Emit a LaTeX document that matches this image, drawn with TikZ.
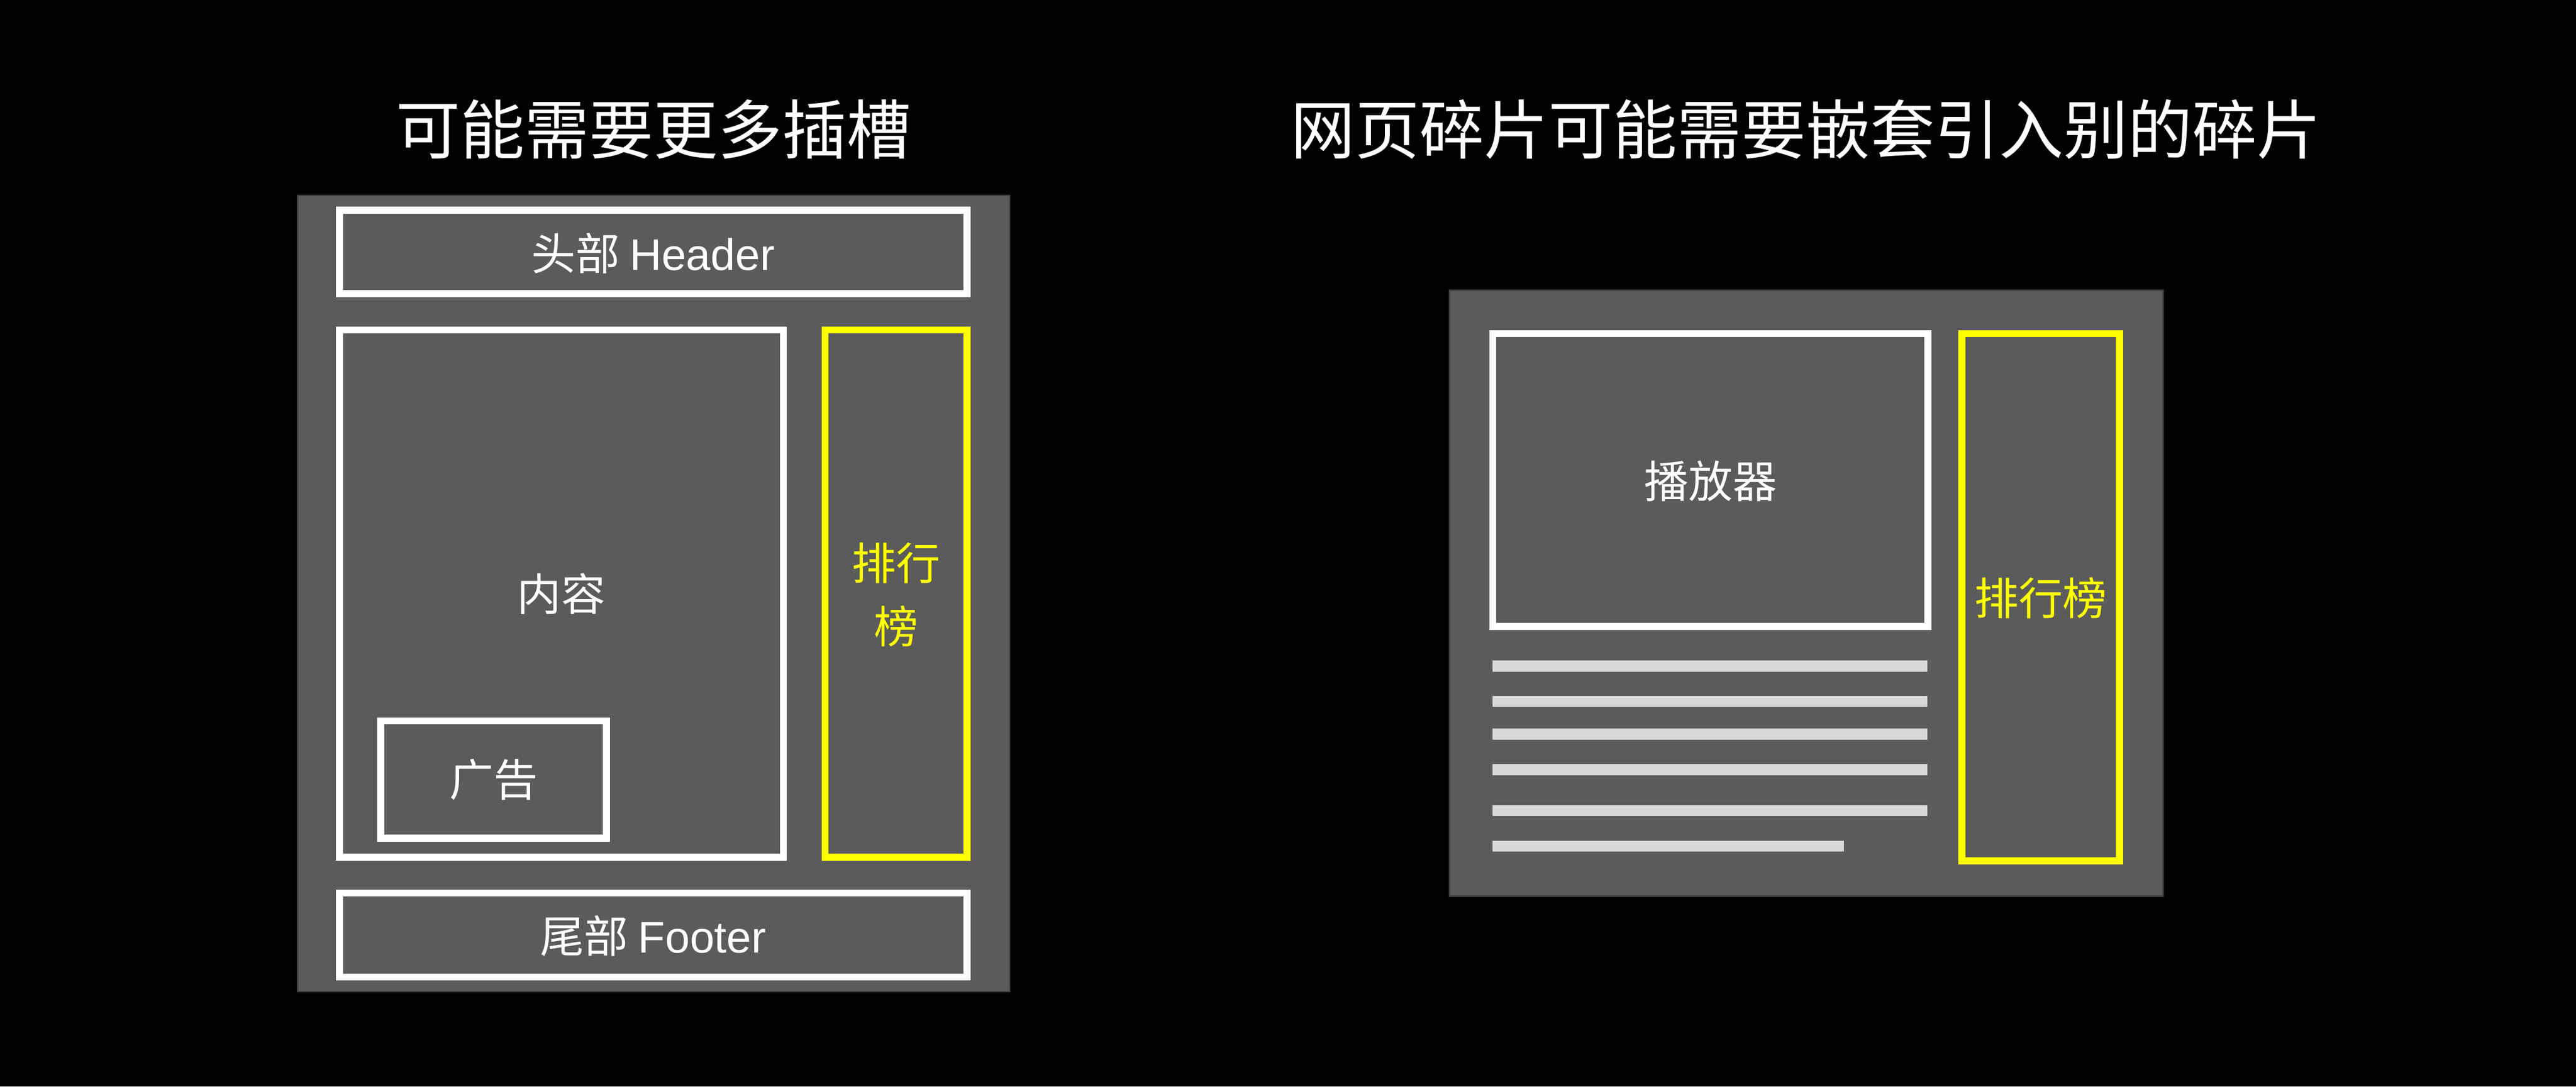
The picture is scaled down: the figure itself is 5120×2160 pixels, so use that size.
\documentclass[tikz,border=0pt]{standalone}
\usepackage{fontspec}
\setmainfont{Liberation Sans}
\newfontfamily\cjk{Noto Sans CJK SC}
\usetikzlibrary{positioning}

\definecolor{panelgray}{RGB}{91,91,91}
\definecolor{paneledge}{RGB}{64,64,64}
\definecolor{rowgray}{RGB}{216,216,216}
\definecolor{rankyellow}{RGB}{255,255,0}

\tikzset{
  panel/.style={fill=panelgray, draw=paneledge, line width=0.03cm},
  slot/.style={draw=white, line width=0.14cm},
  rankslot/.style={draw=rankyellow, line width=0.14cm},
  title/.style={text=white, font=\cjk\fontsize{36.4}{44}\selectfont},
  label/.style={text=white, font=\cjk\fontsize{25}{36}\selectfont},
}

\begin{document}
\begin{tikzpicture}[x=0.01cm, y=-0.01cm]
        \fill[black] (0,0) rectangle (5120,2160);
        \useasboundingbox (0,0) rectangle (5120,2160);

        % left page
        \node[title] (lefttitle) at (1299,257) {可能需要更多插槽};
        \draw[panel] (591,389) rectangle (2007,1971);
        \draw[slot] (675,418) rectangle (1922,584);
        \draw[slot] (675,656) rectangle (1557,1704);
        \draw[rankslot] (1640,656) rectangle (1922,1704);
        \draw[slot] (757,1433) rectangle (1205,1666);
        \draw[slot] (675,1775) rectangle (1922,1942);

        \node[label] (header) at (1298,503) {头部 {\rmfamily Header}};
        \node[label] (content) at (1116,1180) {内容};
        \node[label] (ad) at (981,1550) {广告};
        \node[label, text=rankyellow, align=center] (leftrank) at (1781,1182) {排行\\榜};
        \node[label] (footer) at (1298,1860) {尾部 {\rmfamily Footer}};

        % right page
        \node[title] (righttitle) at (3590,257) {网页碎片可能需要嵌套引入别的碎片};
        \draw[panel] (2881,577) rectangle (4299,1781);
        \draw[slot] (2967,663) rectangle (3832,1245);
        \draw[rankslot] (3899,663) rectangle (4213,1711);
        \foreach \y/\e in {1324/3831, 1394/3831, 1459/3831, 1530/3831, 1611/3831, 1682/3665}
            \draw[rowgray, line width=0.22cm] (2967,\y) -- (\e,\y);

        \node[label] (player) at (3400,956) {播放器};
        \node[label, text=rankyellow] (rightrank) at (4056,1189) {排行榜};

    \end{tikzpicture}
\end{document}
